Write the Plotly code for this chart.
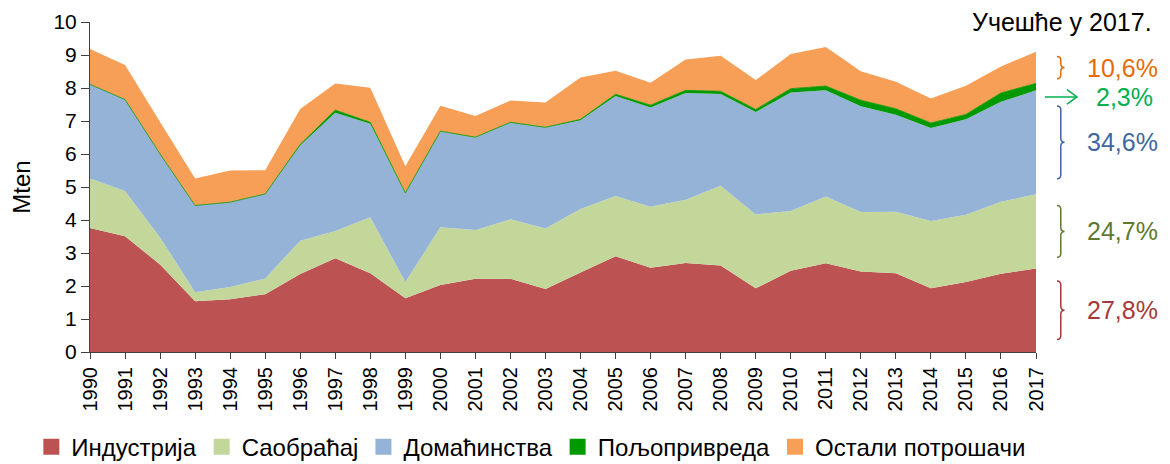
import plotly.graph_objects as go

# -------- Data (Mten) --------
years = list(range(1990, 2018))

industrija = [3.76, 3.51, 2.65, 1.54, 1.60, 1.75, 2.36, 2.84, 2.39, 1.63,
              2.03, 2.22, 2.22, 1.91, 2.41, 2.90, 2.55, 2.70, 2.62, 1.93,
              2.46, 2.69, 2.44, 2.39, 1.93, 2.12, 2.37, 2.53]
saobracaj = [1.50, 1.37, 0.82, 0.27, 0.37, 0.48, 1.01, 0.83, 1.69, 0.49,
             1.75, 1.48, 1.80, 1.83, 1.92, 1.83, 1.85, 1.91, 2.42, 2.24,
             1.81, 2.02, 1.80, 1.86, 2.04, 2.04, 2.18, 2.25]
domacinstva = [2.85, 2.77, 2.53, 2.63, 2.57, 2.56, 2.89, 3.58, 2.84, 2.68,
               2.90, 2.80, 2.93, 3.06, 2.69, 3.03, 3.01, 3.24, 2.78, 3.10,
               3.59, 3.22, 3.21, 2.94, 2.82, 2.89, 3.03, 3.15]
poljoprivreda = [0.0, 0.0, 0.0, 0.0, 0.0, 0.0, 0.03, 0.08, 0.04, 0.02,
                 0.01, 0.01, 0.01, 0.01, 0.03, 0.05, 0.07, 0.08, 0.08, 0.08,
                 0.12, 0.13, 0.18, 0.18, 0.15, 0.15, 0.27, 0.21]
ostali = [1.07, 1.05, 0.97, 0.82, 0.96, 0.72, 1.07, 0.81, 1.05, 0.81,
          0.77, 0.64, 0.66, 0.75, 1.27, 0.71, 0.68, 0.93, 1.08, 0.89,
          1.05, 1.18, 0.88, 0.82, 0.74, 0.87, 0.80, 0.96]

names = ["Индустрија", "Саобраћај", "Домаћинства", "Пољопривреда", "Остали потрошачи"]
series = [industrija, saobracaj, domacinstva, poljoprivreda, ostali]
fill_colors = ["#BC5352", "#C4D79B", "#95B3D7", "#009900", "#F79F57"]

# shares in 2017 (labels on the right), same order as series
shares_2017 = ["27,8%", "24,7%", "34,6%", "2,3%", "10,6%"]
share_colors = ["#A63A3A", "#5E7A2E", "#3F66A0", "#00B050", "#E46C0A"]

FONT = "Liberation Sans, Arial, sans-serif"

fig = go.Figure()

# -------- Stacked areas --------
for name, vals, col in zip(names, series, fill_colors):
    lw = 0.8 if name == "Пољопривреда" else 0
    fig.add_trace(go.Scatter(
        x=years, y=vals, name=name, mode="lines",
        stackgroup="one", fillcolor=col,
        line=dict(color=col, width=lw),
        showlegend=False
    ))

# legend entries as square markers
for name, col in zip(names, fill_colors):
    fig.add_trace(go.Scatter(
        x=[None], y=[None], name=name, mode="markers",
        marker=dict(symbol="square", size=16, color=col)
    ))

# -------- Braces / arrow with share labels for 2017 --------
def brace_path(x0, w, ylo, yhi):
    ym = (ylo + yhi) / 2
    r = min(0.12, (yhi - ylo) / 6)
    xm = x0 + w / 2
    return (f"M {x0},{yhi} Q {xm},{yhi} {xm},{yhi - r} "
            f"L {xm},{ym + r} Q {xm},{ym} {x0 + w},{ym} "
            f"Q {xm},{ym} {xm},{ym - r} "
            f"L {xm},{ylo + r} Q {xm},{ylo} {x0},{ylo}")

bottom = 0.0
for i, vals in enumerate(series):
    v = vals[-1]
    top = bottom + v
    if names[i] == "Пољопривреда":
        # arrow + label just below the thin band
        ya = bottom - 0.2
        fig.add_shape(type="line", xref="paper", yref="y",
                      x0=1.0095, x1=1.0433, y0=ya, y1=ya,
                      line=dict(color=share_colors[i], width=1.5))
        fig.add_shape(type="path", xref="paper", yref="y",
                      path=f"M 1.0328,{ya + 0.22} L 1.0433,{ya} L 1.0328,{ya - 0.22}",
                      line=dict(color=share_colors[i], width=1.5))
        fig.add_annotation(xref="paper", yref="y", x=1.094, y=ya,
                           xanchor="center", yanchor="middle",
                           text=shares_2017[i], showarrow=False,
                           font=dict(size=25, color=share_colors[i], family=FONT))
    else:
        pad = 0.15 * v
        fig.add_shape(type="path", xref="paper", yref="y",
                      path=brace_path(1.0222, 0.008, bottom + pad, top - pad),
                      line=dict(color=share_colors[i], width=1.5))
        fig.add_annotation(xref="paper", yref="y", x=1.091, y=(bottom + top) / 2,
                           xanchor="center", yanchor="middle",
                           text=shares_2017[i], showarrow=False,
                           font=dict(size=25, color=share_colors[i], family=FONT))
    bottom = top

fig.add_annotation(xref="paper", yref="paper", x=1.0275, y=1.0,
                   xanchor="center", yanchor="middle",
                   text="Учешће у 2017.", showarrow=False,
                   font=dict(size=25, color="#000000", family=FONT))

# -------- Layout --------
# page body has an 8px margin, so the figure is 8px smaller each way
fig.update_layout(
    width=1162, height=456,
    margin=dict(l=82, r=134, t=14, b=112, autoexpand=False),
    plot_bgcolor="white", paper_bgcolor="white",
    font=dict(family=FONT, size=20, color="#000000"),
    showlegend=True,
    legend=dict(orientation="h", x=-0.062, xanchor="left", y=-0.288, yanchor="middle",
                font=dict(size=24, family=FONT), bgcolor="rgba(0,0,0,0)",
                traceorder="normal", itemsizing="trace"),
    xaxis=dict(range=[1990, 2017], tickmode="array", tickvals=years,
               ticktext=[str(y) for y in years], tickangle=-90,
               showgrid=False, zeroline=False, showline=True, automargin=False,
               linecolor="#404040", linewidth=1, ticks="outside",
               ticklen=6, tickcolor="#404040", tickfont=dict(size=20)),
    yaxis=dict(range=[0, 10], dtick=1, showgrid=False, zeroline=False,
               showline=True, linecolor="#404040", linewidth=1, automargin=False,
               ticks="outside", ticklen=8, tickcolor="#404040",
               tickfont=dict(size=21),
               title=dict(text="Mten", font=dict(size=24), standoff=18)),
)

fig.write_html("out.html")
